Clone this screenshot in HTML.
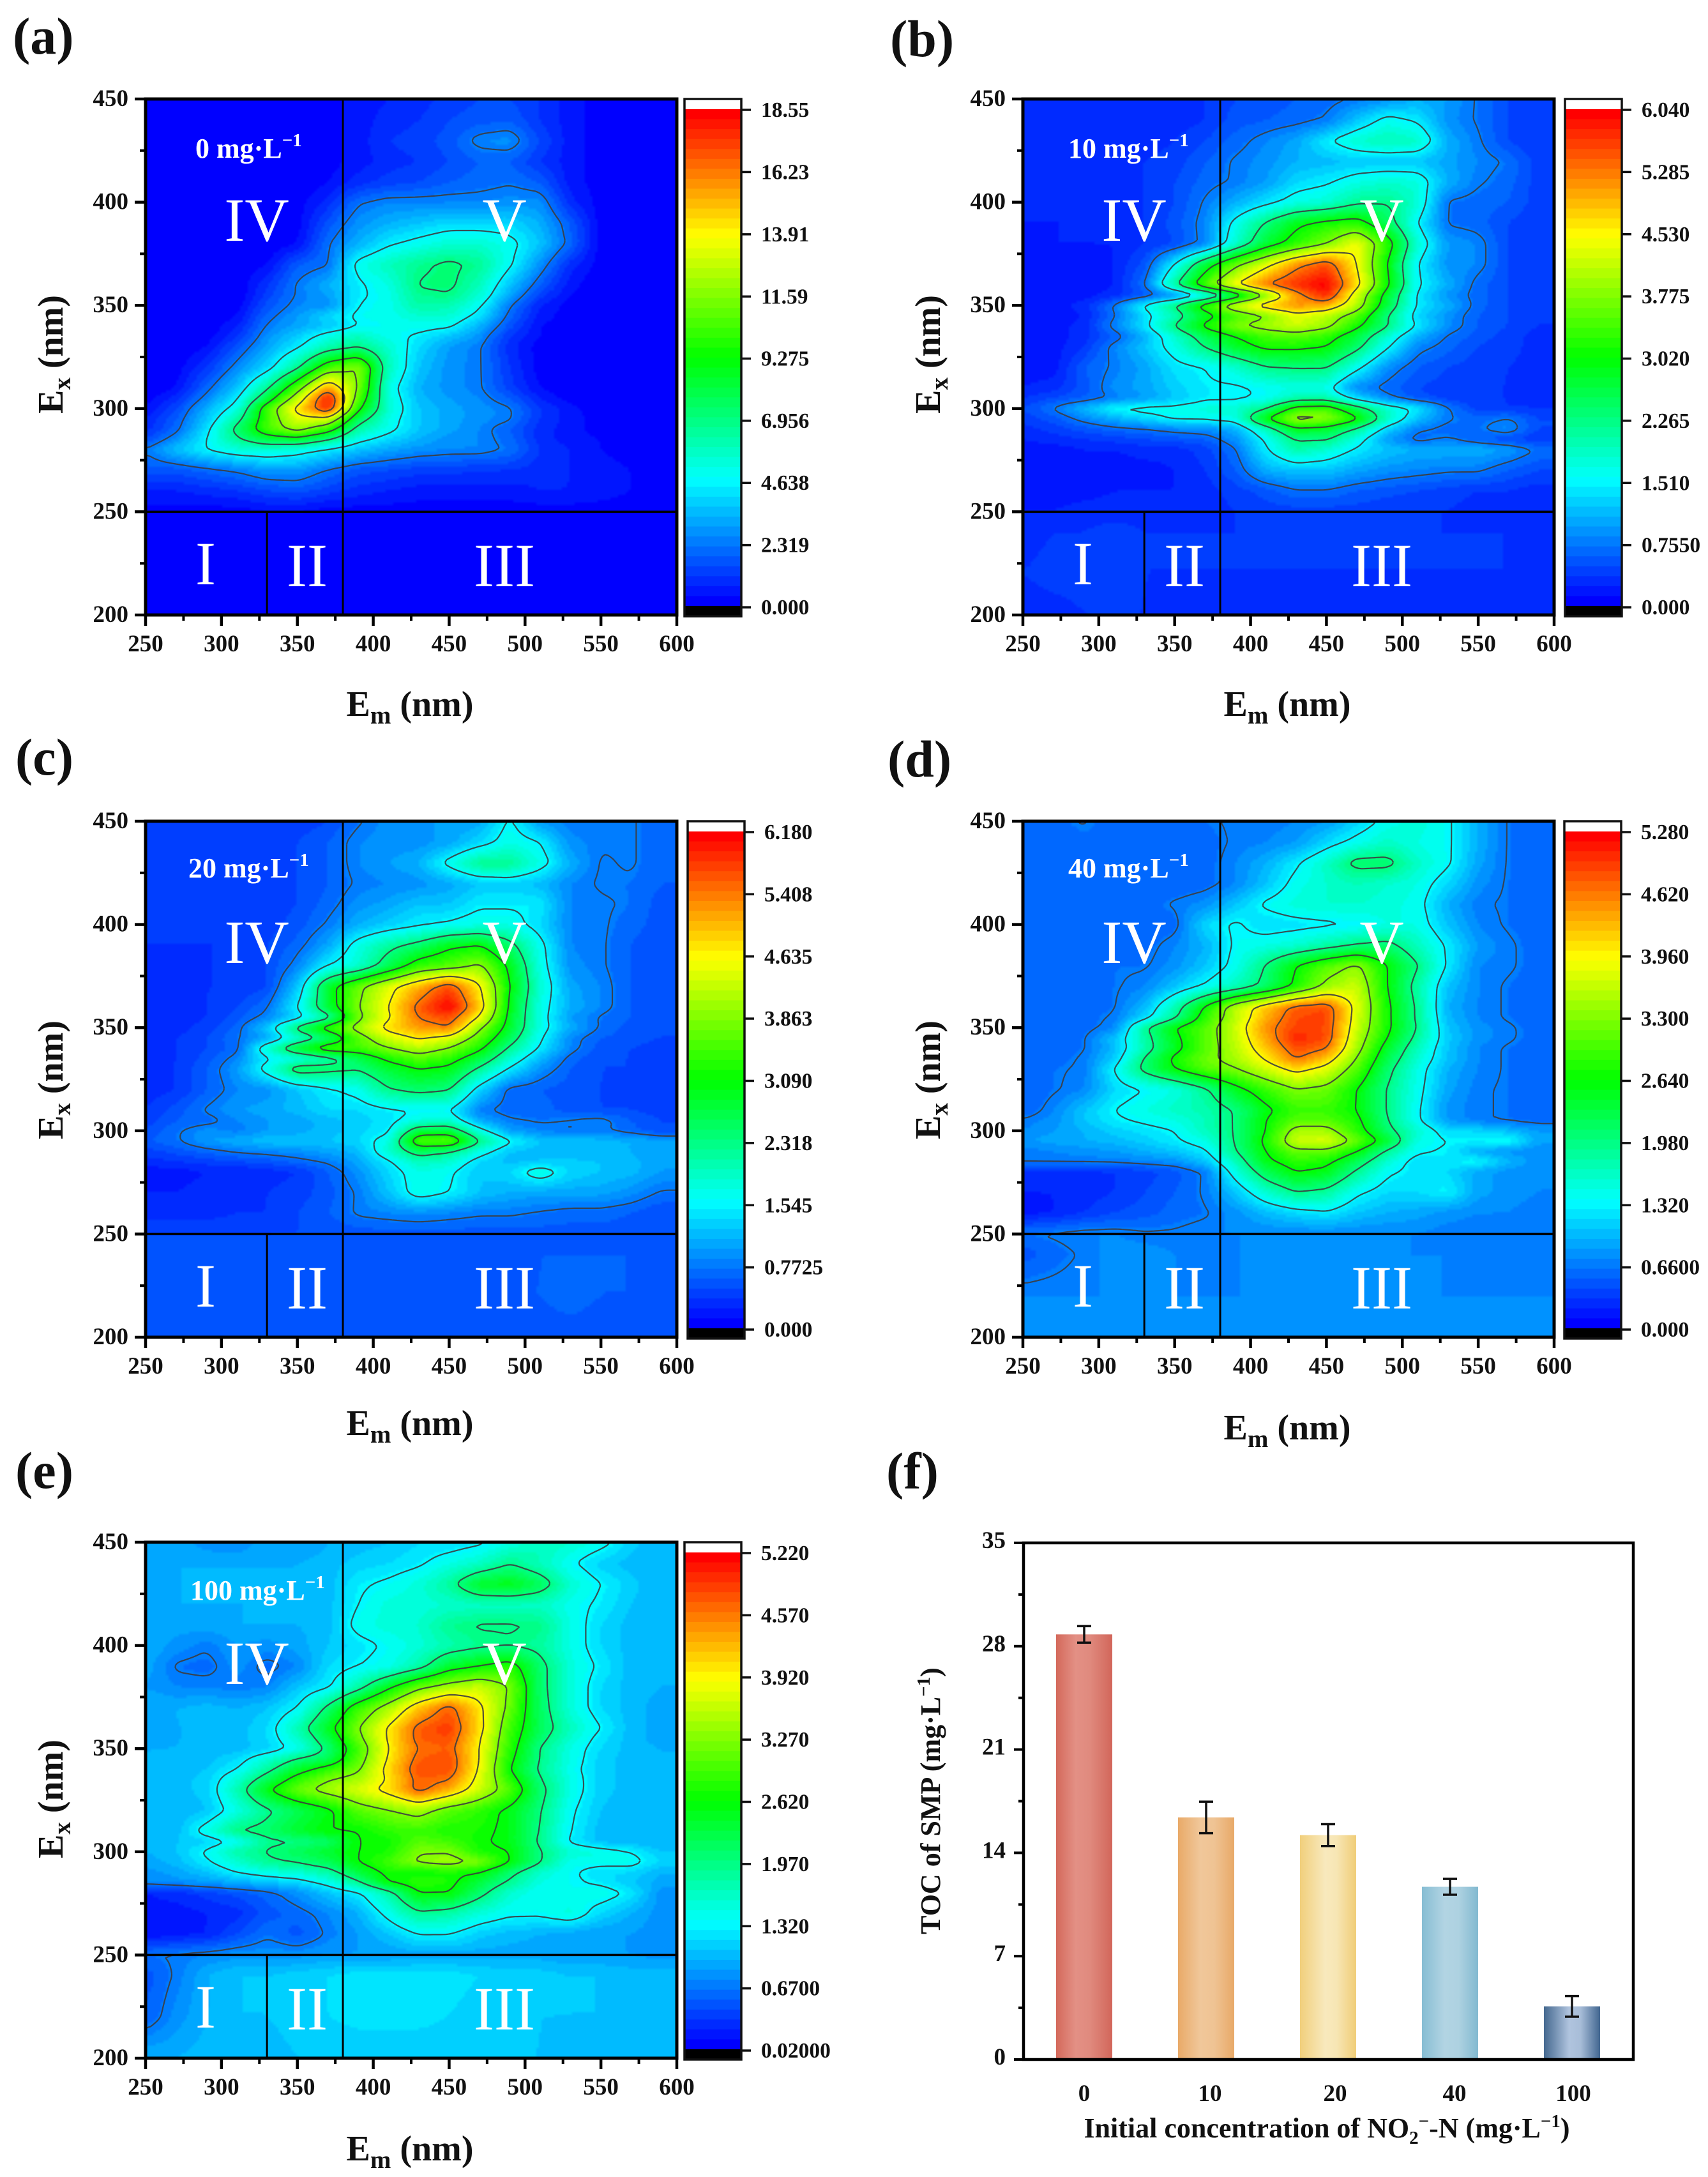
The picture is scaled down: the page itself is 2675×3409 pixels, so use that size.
<!DOCTYPE html>
<html lang="en">
<head>
<meta charset="utf-8">
<title>EEM fluorescence spectra and TOC of SMP</title>
<style>
html,body{margin:0;padding:0;background:#fff;}
#page{position:relative;width:2675px;height:3409px;overflow:hidden;background:#fff;font-family:"Liberation Serif",serif;}
canvas{position:absolute;display:block;}
svg{position:absolute;left:0;top:0;}
text{font-family:"Liberation Serif",serif;fill:#111;}
.panel-tag{font-size:82px;font-weight:bold;}
.axis-title{font-size:56px;font-weight:bold;text-anchor:middle;}
.region{font-size:96px;fill:#fff;text-anchor:middle;}
.dose{font-size:44px;font-weight:bold;fill:#fff;}
.tick{font-size:37px;font-weight:bold;}
.cb-tick{font-size:33.5px;font-weight:bold;}
</style>
</head>
<body>
<div id="page">
<canvas id="heat-a" width="208" height="202" style="left:228px;top:155px;width:832px;height:808px"></canvas>
<canvas id="heat-b" width="208" height="202" style="left:1602px;top:155px;width:832px;height:808px"></canvas>
<canvas id="heat-c" width="208" height="202" style="left:228px;top:1286px;width:832px;height:808px"></canvas>
<canvas id="heat-d" width="208" height="202" style="left:1602px;top:1286px;width:832px;height:808px"></canvas>
<canvas id="heat-e" width="208" height="202" style="left:228px;top:2415px;width:832px;height:808px"></canvas>

<svg id="overlay" xmlns="http://www.w3.org/2000/svg" width="2675" height="3409" viewBox="0 0 2675 3409">
<defs>
<linearGradient id="bar-grad-0" x1="0" x2="1" y1="0" y2="0"><stop offset="0" stop-color="#d4695b"/><stop offset=".35" stop-color="#e39085"/><stop offset=".6" stop-color="#e08a7e"/><stop offset="1" stop-color="#d2665a"/></linearGradient>
<linearGradient id="bar-grad-1" x1="0" x2="1" y1="0" y2="0"><stop offset="0" stop-color="#e9aa68"/><stop offset=".4" stop-color="#f0c79a"/><stop offset=".65" stop-color="#efc393"/><stop offset="1" stop-color="#e8a968"/></linearGradient>
<linearGradient id="bar-grad-2" x1="0" x2="1" y1="0" y2="0"><stop offset="0" stop-color="#f1cf7c"/><stop offset=".45" stop-color="#f8e9bd"/><stop offset=".65" stop-color="#f7e6b4"/><stop offset="1" stop-color="#f0cd78"/></linearGradient>
<linearGradient id="bar-grad-3" x1="0" x2="1" y1="0" y2="0"><stop offset="0" stop-color="#86bdd3"/><stop offset=".4" stop-color="#b2d4e3"/><stop offset=".65" stop-color="#aed2e1"/><stop offset="1" stop-color="#82b9d0"/></linearGradient>
<linearGradient id="bar-grad-4" x1="0" x2="1" y1="0" y2="0"><stop offset="0" stop-color="#44688f"/><stop offset=".45" stop-color="#b0c4de"/><stop offset=".65" stop-color="#a8bdd8"/><stop offset="1" stop-color="#416690"/></linearGradient>
</defs>

<text class="panel-tag" x="20" y="84">(a)</text>
<text class="panel-tag" x="1394" y="88">(b)</text>
<text class="panel-tag" x="24" y="1213">(c)</text>
<text class="panel-tag" x="1390" y="1216">(d)</text>
<text class="panel-tag" x="24" y="2330">(e)</text>
<text class="panel-tag" x="1388" y="2331">(f)</text>

<g id="panel-a" transform="translate(228,155)">
<g class="marks"></g>
<text class="region" x="174" y="222">IV</text>
<text class="region" x="562" y="222">V</text>
<text class="region" x="94" y="760">I</text>
<text class="region" x="253" y="763">II</text>
<text class="region" x="562" y="763">III</text>
<text class="dose" x="78" y="92">0 mg·L<tspan dy="-18" font-size="29">−1</tspan></text>
<text class="axis-title" x="414" y="966">E<tspan dy="12" font-size="39">m</tspan><tspan dy="-12"> (nm)</tspan></text>
<text class="axis-title" transform="translate(-130,400) rotate(-90)">E<tspan dy="12" font-size="39">x</tspan><tspan dy="-12"> (nm)</tspan></text>
</g>

<g id="panel-b" transform="translate(1602,155)">
<g class="marks"></g>
<text class="region" x="174" y="222">IV</text>
<text class="region" x="562" y="222">V</text>
<text class="region" x="94" y="760">I</text>
<text class="region" x="253" y="763">II</text>
<text class="region" x="562" y="763">III</text>
<text class="dose" x="71" y="92">10 mg·L<tspan dy="-18" font-size="29">−1</tspan></text>
<text class="axis-title" x="414" y="966">E<tspan dy="12" font-size="39">m</tspan><tspan dy="-12"> (nm)</tspan></text>
<text class="axis-title" transform="translate(-130,400) rotate(-90)">E<tspan dy="12" font-size="39">x</tspan><tspan dy="-12"> (nm)</tspan></text>
</g>

<g id="panel-c" transform="translate(228,1286)">
<g class="marks"></g>
<text class="region" x="174" y="222">IV</text>
<text class="region" x="562" y="222">V</text>
<text class="region" x="94" y="760">I</text>
<text class="region" x="253" y="763">II</text>
<text class="region" x="562" y="763">III</text>
<text class="dose" x="67" y="88">20 mg·L<tspan dy="-18" font-size="29">−1</tspan></text>
<text class="axis-title" x="414" y="961">E<tspan dy="12" font-size="39">m</tspan><tspan dy="-12"> (nm)</tspan></text>
<text class="axis-title" transform="translate(-130,405) rotate(-90)">E<tspan dy="12" font-size="39">x</tspan><tspan dy="-12"> (nm)</tspan></text>
</g>

<g id="panel-d" transform="translate(1602,1286)">
<g class="marks"></g>
<text class="region" x="174" y="222">IV</text>
<text class="region" x="562" y="222">V</text>
<text class="region" x="94" y="760">I</text>
<text class="region" x="253" y="763">II</text>
<text class="region" x="562" y="763">III</text>
<text class="dose" x="71" y="88">40 mg·L<tspan dy="-18" font-size="29">−1</tspan></text>
<text class="axis-title" x="414" y="968">E<tspan dy="12" font-size="39">m</tspan><tspan dy="-12"> (nm)</tspan></text>
<text class="axis-title" transform="translate(-130,405) rotate(-90)">E<tspan dy="12" font-size="39">x</tspan><tspan dy="-12"> (nm)</tspan></text>
</g>

<g id="panel-e" transform="translate(228,2415)">
<g class="marks"></g>
<text class="region" x="174" y="222">IV</text>
<text class="region" x="562" y="222">V</text>
<text class="region" x="94" y="760">I</text>
<text class="region" x="253" y="763">II</text>
<text class="region" x="562" y="763">III</text>
<text class="dose" x="70" y="90">100 mg·L<tspan dy="-18" font-size="29">−1</tspan></text>
<text class="axis-title" x="414" y="968">E<tspan dy="12" font-size="39">m</tspan><tspan dy="-12"> (nm)</tspan></text>
<text class="axis-title" transform="translate(-130,402) rotate(-90)">E<tspan dy="12" font-size="39">x</tspan><tspan dy="-12"> (nm)</tspan></text>
</g>

<g id="panel-f">
<g id="bars-f"></g>
<text x="1458" y="2820" transform="rotate(-90 1458 2820) translate(0,14)" text-anchor="middle" font-size="44" font-weight="bold">TOC of SMP (mg·L<tspan dy="-16" font-size="29">−1</tspan><tspan dy="16">)</tspan></text>
<text x="2078" y="3347" text-anchor="middle" font-size="44" font-weight="bold">Initial concentration of NO<tspan dy="10" font-size="29">2</tspan><tspan dy="-26" font-size="29">−</tspan><tspan dy="16">-N (mg·L</tspan><tspan dy="-16" font-size="29">−1</tspan><tspan dy="16">)</tspan></text>
</g>
</svg>
</div>

<script>
// ---- shared EEM axes ----
const emAxis = [250,270,290,310,330,350,370,390,410,430,450,470,490,510,530,550,570,590];
const exAxis = [450,440,430,420,410,400,390,380,370,360,355,350,345,340,335,330,320,310,305,300,295,290,285,280,270,260,250,240,220,200];
const xTickLabels = [250,300,350,400,450,500,550,600];
const yTickLabels = [200,250,300,350,400,450];

const intensityA = [
[0,0,0,0,0,0,1,3,4,5,7,8,8,6,3,1,0,0],
[0,0,0,0,0,0,1,3,5,6,8,9,10,6,3,1,0,0],
[0,0,0,0,0,0,1,3,6,7,9,14,15,8,3,1,0,0],
[0,0,0,0,0,0,1,3,5,6,8,10,10,6,3,1,0,0],
[0,0,0,0,0,0,2,5,7,8,10,11,12,10,3,1,0,0],
[0,0,0,0,0,1,5,12,14,14,14,14,15,15,5,1,0,0],
[0,0,0,0,0,1,9,15,18,20,22,22,22,18,10,1,0,0],
[0,0,0,0,0,2,12,18,24,27,30,30,27,20,11,1,0,0],
[0,0,0,0,2,10,12,27,32,36,39,36,26,15,5,1,0,0],
[0,0,0,0,6,13,18,24,28,38,39,32,20,10,3,0,0,0],
[0,0,0,0,7,13,16,24,27,36,37,30,17,7,2,0,0,0],
[0,0,0,1,9,14,15,25,27,34,33,26,13,4,1,0,0,0],
[0,0,0,2,11,16,22,26,27,30,30,23,11,3,1,0,0,0],
[0,0,0,4,13,17,20,25,26,27,26,18,9,2,1,0,0,0],
[0,0,1,6,15,21,28,32,27,24,20,15,6,2,0,0,0,0],
[0,0,2,9,17,24,33,37,30,22,16,13,5,1,0,0,0,0],
[0,1,6,14,22,36,56,63,32,20,15,13,6,1,0,0,0,0],
[0,2,11,20,36,58,84,62,28,18,15,13,7,2,0,0,0,0],
[1,5,14,24,44,68,98,58,29,19,16,14,10,4,1,0,0,0],
[2,8,18,28,56,78,96,52,30,20,17,15,13,6,3,0,0,0],
[4,10,20,34,56,72,72,42,28,20,17,15,13,6,3,1,0,0],
[5,11,23,40,57,66,55,34,27,20,17,14,10,5,3,1,0,0],
[8,15,25,36,44,46,38,27,22,18,15,14,11,5,3,2,0,0],
[13,20,25,29,30,28,24,20,17,15,14,14,12,6,4,2,1,0],
[9,9,11,13,16,16,12,9,8,7,7,6,6,5,4,3,2,1],
[4,4,5,6,8,9,7,5,4,3,3,3,3,4,4,3,2,1],
[1,1,1,1,2,2,1,1,1,1,1,1,1,1,1,1,1,1],
[1,1,1,1,1,1,1,1,1,1,1,1,1,1,1,1,1,1],
[1,1,1,1,1,1,1,1,1,1,1,1,1,1,1,1,1,1],
[0,1,1,1,1,1,1,1,1,1,1,1,1,1,1,1,1,1]];

const intensityB = [
[4,4,4,4,4,5,6,8,9,10,11,13,15,18,16,12,8,6],
[4,4,4,4,5,5,6,9,10,11,13,20,27,24,15,12,8,6],
[4,4,4,4,5,6,8,11,14,17,24,30,33,31,18,13,8,6],
[5,6,6,6,6,7,10,13,15,18,19,20,20,20,17,14,12,7],
[4,4,4,5,6,8,11,13,16,22,24,28,30,29,18,13,11,7],
[4,4,4,5,6,8,13,18,23,28,30,36,37,30,12,11,10,7],
[4,4,4,5,6,9,14,27,38,48,52,54,42,25,12,11,8,6],
[3,4,4,4,6,8,14,30,45,54,62,74,55,30,16,14,8,6],
[3,3,3,4,9,25,45,60,72,85,92,75,50,25,15,14,8,6],
[3,3,3,4,12,36,58,75,88,95,100,78,52,26,18,11,8,6],
[3,3,3,5,9,14,25,42,62,84,96,70,46,24,15,11,8,6],
[3,3,5,13,26,38,55,70,80,85,82,68,44,24,18,11,8,6],
[3,3,4,12,22,33,46,56,62,72,68,58,38,22,15,10,8,6],
[3,3,5,14,23,38,52,62,66,70,65,52,38,24,15,10,8,6],
[3,3,5,10,18,30,42,50,56,58,54,44,30,18,12,9,7,5],
[3,3,6,14,20,28,38,46,52,52,50,40,26,14,11,8,7,5],
[3,3,10,13,17,23,25,30,37,38,38,27,15,10,8,7,6,5],
[4,5,9,15,17,21,24,24,26,28,27,14,11,8,7,6,6,5],
[6,8,10,13,16,20,24,24,26,33,33,22,14,9,7,6,6,5],
[8,13,19,26,27,27,29,30,37,54,56,42,30,24,13,7,6,6],
[7,9,14,18,22,26,26,28,50,66,64,52,32,20,13,11,13,8],
[5,7,9,11,12,14,15,18,32,48,46,36,22,13,11,12,15,8],
[4,5,6,7,8,9,10,15,26,38,38,28,16,11,13,10,8,6],
[3,3,4,4,5,5,7,12,24,34,30,24,20,18,18,18,16,12],
[3,3,3,3,3,4,6,10,18,20,20,17,15,14,13,13,10,8],
[3,3,3,4,4,4,5,7,9,12,12,10,9,8,7,6,6,5],
[4,4,5,5,5,5,5,6,7,7,7,7,6,6,6,5,5,5],
[5,6,6,7,6,6,6,6,6,6,6,6,6,6,6,6,6,5],
[6,7,7,7,6,6,6,6,6,6,6,6,6,6,6,6,6,6],
[5,5,6,6,6,5,5,5,5,5,5,5,5,5,5,5,5,5]];

const intensityC = [
[6,6,6,6,6,7,8,12,15,16,16,17,26,16,13,13,13,10],
[6,6,6,6,7,8,10,14,15,15,17,22,28,25,15,13,13,10],
[6,6,6,6,7,8,10,14,16,18,27,36,36,28,18,12,13,10],
[6,6,6,6,7,8,10,13,14,15,17,20,21,19,14,12,12,10],
[6,6,6,6,7,8,11,15,17,20,20,24,24,24,14,13,12,9],
[6,6,6,6,7,9,13,18,21,24,26,28,28,22,14,13,11,9],
[6,6,6,6,8,11,17,28,35,40,48,50,40,27,14,13,10,8],
[5,5,6,6,8,14,25,30,42,55,58,64,48,28,15,13,10,8],
[5,5,6,6,8,20,46,60,72,82,92,76,50,30,17,14,10,8],
[5,5,6,8,12,25,45,62,75,90,100,80,48,28,18,14,10,8],
[5,5,6,9,14,22,34,60,74,88,92,74,47,28,16,12,10,8],
[5,5,7,11,21,40,55,66,78,84,87,64,46,28,18,12,9,8],
[5,6,8,12,17,30,40,58,70,76,72,58,42,26,14,10,9,8],
[5,6,8,11,31,46,56,56,62,68,62,52,36,24,14,9,8,7],
[5,6,9,14,24,28,34,42,52,58,54,44,30,19,11,8,8,7],
[6,6,10,16,28,42,40,38,45,50,48,36,24,15,10,8,8,7],
[5,6,10,14,15,20,24,27,37,40,38,22,11,10,9,8,7,7],
[6,9,13,16,17,19,22,22,24,25,25,13,11,11,9,8,8,7],
[7,10,11,14,16,17,19,21,23,28,30,17,13,12,13,14,10,8],
[8,12,15,13,16,17,19,21,24,44,44,28,16,14,12,13,11,8],
[10,12,16,18,20,20,20,22,28,58,60,38,26,20,20,19,18,17],
[7,9,11,13,14,15,17,19,30,42,38,28,20,19,20,19,18,16],
[5,6,7,8,9,11,13,17,24,32,30,22,19,20,20,20,19,16],
[3,3,4,4,5,6,10,15,22,28,26,20,22,29,22,20,19,16],
[4,4,5,5,6,7,9,13,20,28,25,20,18,17,17,17,15,12],
[5,5,5,6,6,8,10,13,14,15,14,13,13,12,11,11,10,8],
[8,8,8,8,8,8,8,9,9,9,9,9,9,9,9,9,9,8],
[9,9,9,9,9,9,9,9,9,9,9,9,9,10,10,10,10,9],
[10,10,10,10,10,10,9,9,9,9,9,9,10,10,11,10,10,10],
[9,9,9,9,9,9,9,9,9,9,9,9,9,9,9,9,9,9]];

const intensityD = [
[10,11,13,10,11,10,12,13,13,14,16,21,27,29,26,18,12,11],
[10,10,11,11,11,10,11,13,14,16,22,27,31,28,26,18,12,11],
[10,10,11,11,11,10,11,14,18,24,31,40,40,31,26,17,12,11],
[10,10,11,11,10,10,11,14,20,27,30,32,30,28,22,15,12,11],
[10,11,11,11,11,13,15,20,26,29,30,30,29,27,18,13,12,11],
[10,11,11,10,10,11,22,26,22,23,24,25,28,28,20,14,12,11],
[10,11,12,10,11,14,18,26,28,30,34,38,40,32,24,16,13,11],
[10,11,11,12,12,15,20,27,38,50,58,64,50,38,24,14,13,11],
[10,11,11,12,14,20,26,32,40,52,65,70,50,34,20,14,12,11],
[10,10,11,12,19,33,51,68,80,90,92,72,52,36,18,14,12,11],
[10,10,11,13,22,36,54,68,82,92,93,71,52,36,19,14,12,11],
[10,10,11,14,36,50,58,70,85,93,92,70,52,37,20,15,13,11],
[10,10,12,20,34,48,58,69,83,96,92,68,50,35,21,15,13,11],
[10,11,12,19,33,47,58,68,80,92,88,66,46,32,20,14,12,11],
[11,11,13,21,38,52,60,66,76,88,80,62,43,30,20,14,12,11],
[11,12,13,25,40,50,58,62,70,78,72,58,40,28,18,14,12,11],
[10,12,14,22,25,28,36,47,55,62,60,50,37,27,17,13,12,11],
[10,14,20,25,28,31,33,38,48,55,55,50,37,26,15,13,12,11],
[13,15,20,24,26,28,32,38,50,58,58,52,38,26,16,13,12,11],
[14,16,18,21,23,25,32,38,50,66,66,54,40,30,22,22,19,16],
[16,17,18,19,21,24,28,38,52,70,72,60,46,28,25,25,27,17],
[13,14,15,16,18,20,24,37,50,60,60,50,36,26,24,17,15,14],
[13,13,13,13,14,15,20,32,48,54,52,42,30,22,24,26,19,15],
[5,5,5,6,7,9,13,28,42,50,48,36,26,23,22,17,15,14],
[4,4,5,6,8,10,13,20,30,37,35,26,22,22,25,17,15,14],
[3,4,6,8,9,11,12,15,19,22,24,20,18,17,15,14,14,13],
[12,13,14,14,13,13,14,14,14,14,14,14,14,14,13,13,13,13],
[9,11,13,15,15,14,13,14,14,14,14,14,14,14,14,13,13,13],
[14,14,14,14,14,14,14,14,14,14,14,14,14,14,14,14,14,14],
[14,14,14,14,14,14,14,14,14,14,14,14,14,14,14,14,14,14]];

const intensityE = [
[16,17,15,14,18,16,18,19,20,22,22,24,28,32,30,27,21,18],
[17,18,18,18,18,18,19,21,22,24,28,31,37,32,26,21,19,18],
[17,18,18,18,18,18,19,24,26,29,35,46,48,42,30,25,21,18],
[17,18,18,18,18,18,19,25,29,29,30,31,31,31,27,24,20,18],
[17,17,17,18,18,18,19,27,29,30,36,38,38,37,28,22,19,18],
[18,15,13,16,15,17,20,23,26,29,33,36,37,35,28,22,19,18],
[17,12,11,15,11,14,22,25,27,34,46,50,54,40,29,24,19,18],
[16,14,14,13,14,20,24,34,48,60,66,70,62,40,29,22,19,18],
[18,18,19,18,20,25,39,55,66,80,90,77,60,41,29,22,19,17],
[17,18,18,19,22,33,47,62,76,90,94,78,56,42,32,25,19,17],
[17,18,18,19,22,30,43,60,76,90,92,76,55,40,30,23,19,17],
[18,18,19,19,21,27,39,56,75,88,90,75,54,37,28,22,19,18],
[18,19,19,22,30,38,42,58,76,90,92,75,52,37,28,21,19,18],
[18,19,20,25,35,46,54,61,78,92,92,74,50,36,27,21,19,18],
[18,19,21,30,42,54,62,66,76,90,88,72,54,38,28,21,19,18],
[18,19,21,33,49,60,66,71,78,90,82,70,58,40,28,21,19,18],
[18,18,20,28,36,42,48,58,62,66,58,54,48,38,26,20,18,18],
[18,19,28,38,40,46,50,50,54,55,52,52,48,37,25,19,18,18],
[18,20,21,26,36,37,40,50,51,58,56,51,48,36,24,19,18,18],
[18,20,26,34,38,42,46,50,52,62,62,52,50,38,30,28,25,20],
[17,19,24,30,36,38,42,50,56,64,66,62,50,38,27,27,27,22],
[15,17,20,25,28,30,34,44,52,50,52,50,40,30,26,22,22,18],
[14,15,16,18,20,22,27,36,50,54,52,44,36,28,26,24,20,17],
[4,5,7,9,11,15,20,24,34,50,50,40,30,26,26,28,24,15],
[3,3,4,5,9,11,14,18,27,36,34,29,26,26,29,22,18,15],
[2,3,4,8,12,9,13,16,20,25,25,21,19,18,17,16,16,15],
[12,13,14,15,15,15,16,16,16,17,17,17,17,17,16,16,16,15],
[9,13,18,20,20,21,22,23,23,23,23,22,21,21,20,20,19,19],
[10,15,18,20,20,21,22,23,23,23,22,21,21,20,20,20,19,19],
[18,18,19,19,19,20,20,20,20,20,20,20,20,20,19,19,19,19]];

// ---- contour levels, percent of scale ----
const contourLevels = [12.5,25,37.5,50,62.5,75,87.5];

// ---- colour-bar tick labels ----
const colorTicksA = ['0.000','2.319','4.638','6.956','9.275','11.59','13.91','16.23','18.55'];
const colorTicksB = ['0.000','0.7550','1.510','2.265','3.020','3.775','4.530','5.285','6.040'];
const colorTicksC = ['0.000','0.7725','1.545','2.318','3.090','3.863','4.635','5.408','6.180'];
const colorTicksD = ['0.000','0.6600','1.320','1.980','2.640','3.300','3.960','4.620','5.280'];
const colorTicksE = ['0.02000','0.6700','1.320','1.970','2.620','3.270','3.920','4.570','5.220'];

// ---- bar chart data ----
const tocCategories = ['0','10','20','40','100'];
const tocValues = [28.8,16.4,15.2,11.7,3.6];
const tocErrors = [0.56,1.07,0.74,0.54,0.70];
const tocTicks = [0,7,14,21,28,35];

const SVGNS = 'http://www.w3.org/2000/svg';
function make(tag, parent, attrs) {
  const el = document.createElementNS(SVGNS, tag);
  for (const k in attrs) el.setAttribute(k, attrs[k]);
  parent.appendChild(el);
  return el;
}

const FIELD_W = 208, FIELD_H = 202;
function buildField(grid) {
  const f = new Float32Array(FIELD_W * FIELD_H);
  for (let j = 0; j < FIELD_H; j++) {
    const ex = 450 - 250 * j / (FIELD_H - 1);
    let k = 0;
    while (k < exAxis.length - 2 && exAxis[k + 1] > ex) k++;
    const t = (exAxis[k] - ex) / (exAxis[k] - exAxis[k + 1]);
    for (let i = 0; i < FIELD_W; i++) {
      const em = 250 + 350 * i / (FIELD_W - 1);
      const c = Math.min(16, Math.floor((em - 250) / 20));
      const u = Math.min(1, (em - emAxis[c]) / 20);
      const top = grid[k][c] * (1 - u) + grid[k][c + 1] * u;
      const bot = grid[k + 1][c] * (1 - u) + grid[k + 1][c + 1] * u;
      f[j * FIELD_W + i] = top * (1 - t) + bot * t;
    }
  }
  return boxBlur(f, 2, 1);
}
function boxBlur(src, rx, ry) {
  const tmp = new Float32Array(src.length), out = new Float32Array(src.length);
  for (let j = 0; j < FIELD_H; j++) for (let i = 0; i < FIELD_W; i++) {
    let s = 0, n = 0;
    for (let d = -rx; d <= rx; d++) { const q = i + d; if (q >= 0 && q < FIELD_W) { s += src[j * FIELD_W + q]; n++; } }
    tmp[j * FIELD_W + i] = s / n;
  }
  for (let j = 0; j < FIELD_H; j++) for (let i = 0; i < FIELD_W; i++) {
    let s = 0, n = 0;
    for (let d = -ry; d <= ry; d++) { const q = j + d; if (q >= 0 && q < FIELD_H) { s += tmp[q * FIELD_W + i]; n++; } }
    out[j * FIELD_W + i] = s / n;
  }
  return out;
}

const rainbowStops = [[0,0,255],[0,255,255],[0,255,0],[255,255,0],[255,0,0]];
function rainbow(fr) {
  const band = Math.min(49, Math.max(0, Math.floor(fr * 50))) / 49;
  const p = band * 4, a = Math.min(3, Math.floor(p)), t = p - a;
  const A = rainbowStops[a], B = rainbowStops[a + 1];
  return [A[0] + (B[0] - A[0]) * t, A[1] + (B[1] - A[1]) * t, A[2] + (B[2] - A[2]) * t];
}

function paintHeat(canvas, field) {
  const ctx = canvas.getContext('2d');
  const img = ctx.createImageData(FIELD_W, FIELD_H);
  for (let n = 0; n < field.length; n++) {
    const c = rainbow(field[n] / 100);
    img.data[n * 4] = c[0];
    img.data[n * 4 + 1] = c[1];
    img.data[n * 4 + 2] = c[2];
    img.data[n * 4 + 3] = 255;
  }
  ctx.putImageData(img, 0, 0);
}

function contourPath(field, level, w, h) {
  const sx = w / (FIELD_W - 1), sy = h / (FIELD_H - 1);
  let d = '';
  const cross = (a, b) => (level - a) / (b - a);
  for (let j = 0; j < FIELD_H - 1; j++) for (let i = 0; i < FIELD_W - 1; i++) {
    const a = field[j * FIELD_W + i], b = field[j * FIELD_W + i + 1];
    const c = field[(j + 1) * FIELD_W + i + 1], e = field[(j + 1) * FIELD_W + i];
    const pts = [];
    if ((a < level) !== (b < level)) pts.push([i + cross(a, b), j]);
    if ((b < level) !== (c < level)) pts.push([i + 1, j + cross(b, c)]);
    if ((e < level) !== (c < level)) pts.push([i + cross(e, c), j + 1]);
    if ((a < level) !== (e < level)) pts.push([i, j + cross(a, e)]);
    for (let m = 0; m + 1 < pts.length; m += 2) {
      d += 'M' + (pts[m][0] * sx).toFixed(1) + ' ' + (pts[m][1] * sy).toFixed(1) +
           'L' + (pts[m + 1][0] * sx).toFixed(1) + ' ' + (pts[m + 1][1] * sy).toFixed(1);
    }
  }
  return d;
}

function drawEEM(cfg) {
  const root = document.querySelector('#panel-' + cfg.id + ' .marks');
  const W = 832, H = cfg.h;
  const xOf = em => (em - 250) / 350 * W;
  const yOf = ex => (450 - ex) / 250 * H;
  const field = buildField(cfg.grid);
  paintHeat(document.getElementById('heat-' + cfg.id), field);

  contourLevels.forEach(function (lv) {
    const p = make('path', root, { d: contourPath(field, lv, W, H), fill: 'none', stroke: '#3c3c40', 'stroke-width': 2.2, 'stroke-opacity': 0.9 });
    
    
  });

  const v380 = make('line', root, { x1: xOf(380), x2: xOf(380), y1: 0, y2: H, stroke: '#000', 'stroke-width': 3 });
  
  
  const v330 = make('line', root, { x1: xOf(330), x2: xOf(330), y1: yOf(250), y2: H, stroke: '#000', 'stroke-width': 3 });
  
  
  const h250 = make('line', root, { x1: 0, x2: W, y1: yOf(250), y2: yOf(250), stroke: '#000', 'stroke-width': 3.5 });
  
  

  const frame = make('rect', root, { x: 0, y: 0, width: W, height: H, fill: 'none', stroke: '#000', 'stroke-width': 5 });
  
  

  xTickLabels.forEach(function (v) {
    const t = make('line', root, { x1: xOf(v), x2: xOf(v), y1: H, y2: H + 17, stroke: '#000', 'stroke-width': 4.5 });
    
    
    const m = make('line', root, { x1: xOf(v + 25), x2: xOf(v + 25), y1: H, y2: H + 9, stroke: '#000', 'stroke-width': 4 });
    
    
    if (v === 600) m.remove();
    const l = make('text', root, { class: 'tick', x: xOf(v), y: H + 57, 'text-anchor': 'middle' });
    l.textContent = v;
    
    
  });
  yTickLabels.forEach(function (v) {
    const t = make('line', root, { x1: -17, x2: 0, y1: yOf(v), y2: yOf(v), stroke: '#000', 'stroke-width': 4.5 });
    
    
    const m = make('line', root, { x1: -9, x2: 0, y1: yOf(v + 25), y2: yOf(v + 25), stroke: '#000', 'stroke-width': 4 });
    
    
    if (v === 450) m.remove();
    const l = make('text', root, { class: 'tick', x: -27, y: yOf(v) + 11, 'text-anchor': 'end' });
    l.textContent = v;
    
    
  });

  // colour bar
  const bx = cfg.cbLeft, bw = 89, bh = H + 2;
  const topPad = 16, botPad = 16;
  const bandCount = 50, bandH = (bh - topPad - botPad) / bandCount;
  for (let b = 0; b < bandCount; b++) {
    const c = rainbow((bandCount - 1 - b + 0.5) / bandCount);
    const r = make('rect', root, { x: bx, y: topPad + b * bandH, width: bw, height: bandH + 0.6, fill: 'rgb(' + c.map(Math.round).join(',') + ')' });
    
    
  }
  const black = make('rect', root, { x: bx, y: bh - botPad, width: bw, height: botPad, fill: '#000' });
  
  
  const bf = make('rect', root, { x: bx, y: 0, width: bw, height: bh, fill: 'none', stroke: '#111', 'stroke-width': 3.5 });
  
  
  const nums = cfg.ticks.map(parseFloat);
  const lo = nums[0], hi = nums[nums.length - 1];
  const cbY = v => 17 + (1 - (v - lo) / (hi - lo)) * (bh - 17 - 14);
  cfg.ticks.forEach(function (s, i) {
    const t = make('line', root, { x1: bx + bw, x2: bx + bw + 15, y1: cbY(nums[i]), y2: cbY(nums[i]), stroke: '#111', 'stroke-width': 3.5 });
    
    
    const l = make('text', root, { class: 'cb-tick', x: bx + bw + 31, y: cbY(nums[i]) + 11 });
    l.textContent = s;
    
    
  });
}

const panelSetups = [
  { id: 'a', h: 808, cbLeft: 844, grid: intensityA, ticks: colorTicksA },
  { id: 'b', h: 808, cbLeft: 849, grid: intensityB, ticks: colorTicksB },
  { id: 'c', h: 808, cbLeft: 849, grid: intensityC, ticks: colorTicksC },
  { id: 'd', h: 808, cbLeft: 848, grid: intensityD, ticks: colorTicksD },
  { id: 'e', h: 808, cbLeft: 844, grid: intensityE, ticks: colorTicksE }
];
panelSetups.forEach(drawEEM);

// ---- panel f: bars ----
(function () {
  const root = document.getElementById('bars-f');
  const left = 1603, right = 2558, top = 2416, bottom = 3225;
  const yOf = v => bottom - v / 35 * (bottom - top);
  const xOf = i => 1698 + i * 191;
  const barW = 88;
  tocValues.forEach(function (v, i) {
    const r = make('rect', root, { x: xOf(i) - barW / 2, y: yOf(v), width: barW, height: bottom - yOf(v), fill: 'url(#bar-grad-' + i + ')' });
    
    
    const hi = yOf(v + tocErrors[i]), lo = yOf(v - tocErrors[i]);
    const eb = make('path', root, { d: 'M' + (xOf(i) - 11) + ' ' + hi + 'H' + (xOf(i) + 11) + 'M' + xOf(i) + ' ' + hi + 'V' + lo + 'M' + (xOf(i) - 11) + ' ' + lo + 'H' + (xOf(i) + 11), fill: 'none', stroke: '#111', 'stroke-width': 3.5 });
    
    
    const l = make('text', root, { class: 'tick', x: xOf(i) + (i === 0 ? 0 : i === 1 ? 6 : i === 2 ? 11 : i === 3 ? 7 : 2), y: 3290, 'text-anchor': 'middle' });
    l.textContent = tocCategories[i];
    
    
  });
  const fr = make('rect', root, { x: left, y: top, width: right - left, height: bottom - top, fill: 'none', stroke: '#000', 'stroke-width': 4.5 });
  
  
  tocTicks.forEach(function (v, i) {
    const t = make('line', root, { x1: left - 15, x2: left, y1: yOf(v), y2: yOf(v), stroke: '#000', 'stroke-width': 4 });
    
    
    if (i < tocTicks.length - 1) {
      const m = make('line', root, { x1: left - 8, x2: left, y1: yOf(v + 3.5), y2: yOf(v + 3.5), stroke: '#000', 'stroke-width': 4 });
      
      
    }
    const l = make('text', root, { class: 'tick', x: 1575, y: yOf(v) + 8, 'text-anchor': 'end' });
    l.textContent = v;
    
    
  });
})();
</script>
</body>
</html>
